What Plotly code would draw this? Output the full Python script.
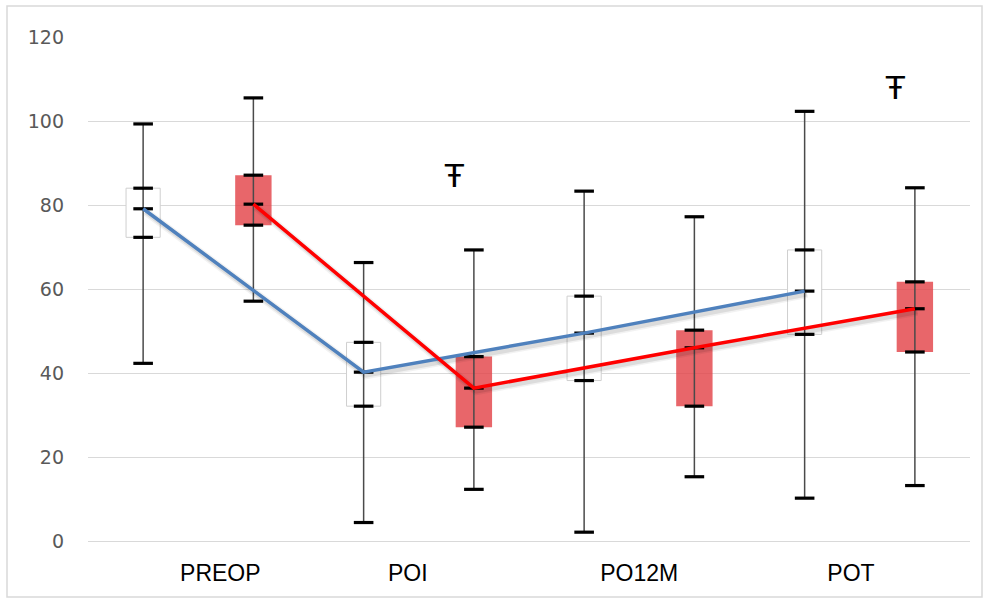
import plotly.graph_objects as go

# Time points and the two groups' summary statistics
categories = ["PREOP", "POI", "PO12M", "POT"]

white_min = [42.3, 4.4, 2.1, 10.2]
white_q1 = [72.3, 32.1, 38.2, 49.2]
white_med = [79.1, 40.2, 49.5, 59.5]
white_q3 = [84.0, 47.3, 58.3, 69.3]
white_max = [99.3, 66.3, 83.3, 102.3]

red_min = [57.1, 12.3, 15.3, 13.2]
red_q1 = [75.2, 27.1, 32.1, 45.0]
red_med = [80.2, 36.4, 46.0, 55.3]
red_q3 = [87.1, 43.9, 50.2, 61.7]
red_max = [105.5, 69.3, 77.2, 84.1]

# Significance marks: (category index, value)
marks = [(1, 87.1), (3, 108.1)]
mark_text = "Ŧ"

n = len(categories)
idx = list(range(n))
OFF = 0.25
xw = [i - OFF for i in idx]
xr = [i + OFF for i in idx]
label_pos = [0.1, -0.05, 0.0, -0.04]  # small nudges of the category labels

L, R, T, B = 88, 18, 37, 62
W, H = 988, 603
pw, ph = W - L - R, H - T - B
XR = [-0.5, n - 0.5]
YR = [0, 120]

fig = go.Figure()


def whisker_xy(xs, lo, hi):
    x, y = [], []
    for xi, a, b in zip(xs, lo, hi):
        x += [xi, xi, None]
        y += [a, b, None]
    return x, y


# Whiskers (min to max)
for xs, lo, hi in ((xw, white_min, white_max), (xr, red_min, red_max)):
    wx, wy = whisker_xy(xs, lo, hi)
    fig.add_trace(go.Scatter(x=wx, y=wy, mode="lines",
                             line=dict(color="#4a4a4a", width=1.5),
                             hoverinfo="skip", showlegend=False))

# White boxes (Q1 to Q3)
fig.add_trace(go.Bar(x=xw, y=[b - a for a, b in zip(white_q1, white_q3)],
                     base=white_q1, width=0.155,
                     marker=dict(color="white", line=dict(color="#cfcfcf", width=1)),
                     showlegend=False))

# Caps at min, Q1, median, Q3, max
for xs, series in ((xw, (white_min, white_q1, white_med, white_q3, white_max)),
                   (xr, (red_min, red_q1, red_med, red_q3, red_max))):
    cx, cy = [], []
    for s in series:
        cx += xs
        cy += s
    fig.add_trace(go.Scatter(x=cx, y=cy, mode="markers",
                             marker=dict(symbol="line-ew", size=14,
                                         line=dict(color="black", width=3.2)),
                             hoverinfo="skip", showlegend=False))

# Red boxes (Q1 to Q3)
fig.add_trace(go.Bar(x=xr, y=[b - a for a, b in zip(red_q1, red_q3)],
                     base=red_q1, width=0.165,
                     marker=dict(color="rgba(226,64,69,0.8)", line=dict(width=0)),
                     showlegend=False))

# Soft drop shadow under the median lines (same data, axes shifted a few px)
sx = 2.5 * (XR[1] - XR[0]) / pw
sy = 3.0 * (YR[1] - YR[0]) / ph
for xs, ys in ((xw, white_med), (xr, red_med)):
    for wdt, alpha in ((8, 0.05), (5, 0.09)):
        fig.add_trace(go.Scatter(x=xs, y=ys, mode="lines", xaxis="x2", yaxis="y2",
                                 line=dict(color=f"rgba(0,0,0,{alpha})", width=wdt),
                                 hoverinfo="skip", showlegend=False))

# Median trend lines
fig.add_trace(go.Scatter(x=xw, y=white_med, mode="lines", xaxis="x3", yaxis="y3",
                         line=dict(color="#4F81BD", width=3.5),
                         showlegend=False))
fig.add_trace(go.Scatter(x=xr, y=red_med, mode="lines", xaxis="x3", yaxis="y3",
                         line=dict(color="#FF0000", width=3.5),
                         showlegend=False))

for ci, v in marks:
    fig.add_annotation(x=ci + 0.16, y=v, text=mark_text, showarrow=False,
                       font=dict(family="Liberation Sans, Arial", size=34, color="black"))

# Chart frame
fig.add_shape(type="rect", xref="paper", yref="paper",
              x0=(7 - L) / pw, x1=(982 - L) / pw,
              y0=(H - B - 597) / ph, y1=(H - B - 6) / ph,
              line=dict(color="#d9d9d9", width=1.5), fillcolor="rgba(0,0,0,0)",
              layer="below")

hidden = dict(visible=False, showgrid=False, zeroline=False)
fig.update_layout(
    width=W, height=H,
    margin=dict(l=L, r=R, t=T, b=B),
    paper_bgcolor="white", plot_bgcolor="white",
    barmode="overlay",
    xaxis=dict(range=XR, tickmode="array", tickvals=[i + d for i, d in zip(idx, label_pos)],
               ticktext=categories, showgrid=False, zeroline=False,
               showline=False, ticks="", ticklabelstandoff=16,
               tickfont=dict(family="Liberation Sans, Arial", size=23, color="black")),
    yaxis=dict(range=YR, tickmode="array", tickvals=[0, 20, 40, 60, 80, 100, 120],
               showgrid=True, gridcolor="#d9d9d9", gridwidth=1.3,
               zeroline=True, zerolinecolor="#d9d9d9", zerolinewidth=1.3,
               showline=False, ticks="", ticklabelstandoff=23,
               tickfont=dict(family="DejaVu Sans", size=19, color="#595959")),
    xaxis2=dict(overlaying="x", range=[XR[0] - sx, XR[1] - sx], **hidden),
    yaxis2=dict(overlaying="y", range=[YR[0] + sy, YR[1] + sy], **hidden),
    xaxis3=dict(overlaying="x", range=XR, **hidden),
    yaxis3=dict(overlaying="y", range=YR, **hidden),
)

fig.write_html("out.html")
